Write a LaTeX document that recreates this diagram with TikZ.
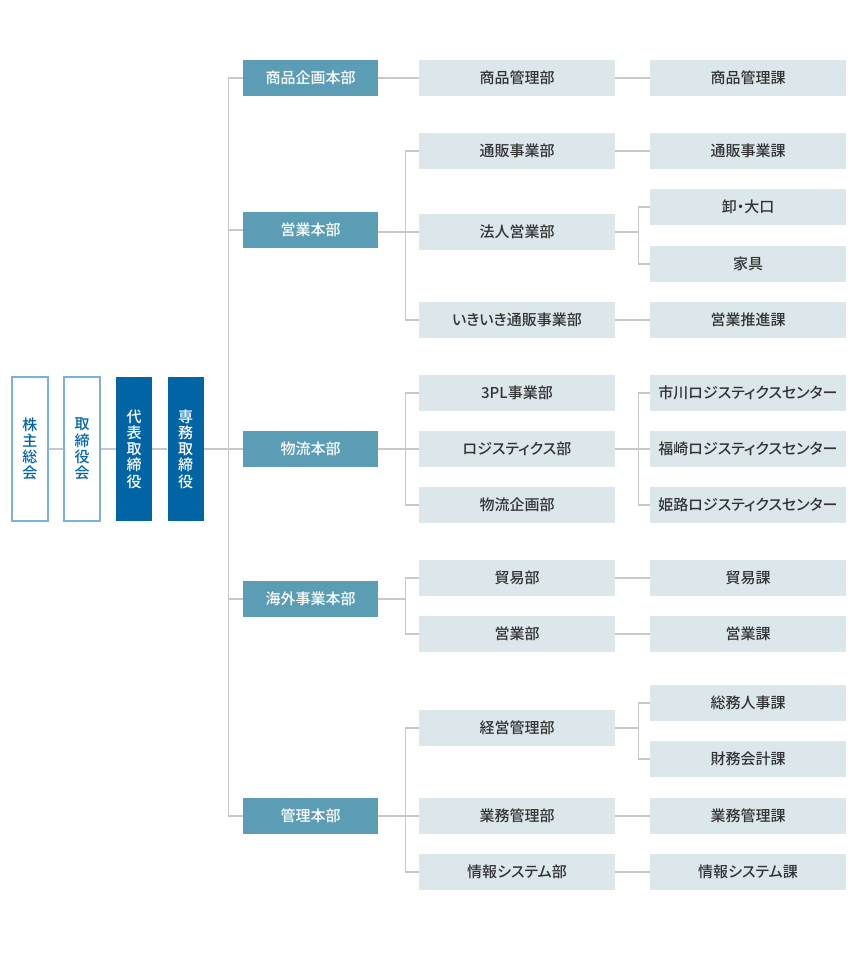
\documentclass[tikz,border=0pt]{standalone}
\usepackage{fontspec}
\setmainfont{Noto Sans CJK JP}[UprightFont=* Medium, RawFeature=+palt]
\definecolor{teal1}{HTML}{5A9DB5}
\definecolor{dblue}{HTML}{0064A5}
\definecolor{lblue}{HTML}{7DB2D8}
\definecolor{pale}{HTML}{DCE7EB}
\definecolor{lgray}{HTML}{C8C8C8}
\definecolor{txt}{HTML}{333333}
\tikzset{
  base/.style={inner sep=0pt, anchor=center, font=\fontsize{15}{17}\selectfont},
  hq/.style={base, fill=teal1, text=white, minimum width=135pt, minimum height=36pt},
  dept/.style={base, fill=pale, text=txt, minimum width=196pt, minimum height=36pt},
  top/.style={base, minimum width=36pt, minimum height=144pt, align=center, font=\fontsize{15}{16.2}\selectfont},
  topo/.style={top, draw=lblue, line width=1.3pt, fill=white, text=dblue},
  topf/.style={top, fill=dblue, text=white},
  conn/.style={draw=lgray, line width=1.2pt}
}
\begin{document}
\begin{tikzpicture}[x=1pt,y=-1pt]
\useasboundingbox[fill=white] (0,0) rectangle (860,970);
% top management
\node[topo] (kabu) at (30,449) {株\\主\\総\\会};
\node[topo] (tori) at (82,449) {取\\締\\役\\会};
\node[topf] (daihyo) at (134,449) {代\\表\\取\\締\\役};
\node[topf] (senmu) at (185.5,449) {専\\務\\取\\締\\役};
% headquarters
\node[hq] (shohin) at (310.5,78) {商品企画本部};
\node[hq] (eigyo) at (310.5,230) {営業本部};
\node[hq] (butsu) at (310.5,449) {物流本部};
\node[hq] (kaigai) at (310.5,599) {海外事業本部};
\node[hq] (kanri) at (310.5,816) {管理本部};
% departments
\node[dept] (shkanri) at (517,78) {商品管理部};
\node[dept] (tsuhan) at (517,151) {通販事業部};
\node[dept] (hojin) at (517,232) {法人営業部};
\node[dept] (ikiiki) at (517,320) {いきいき通販事業部};
\node[dept] (tpl) at (517,393) {3PL事業部};
\node[dept] (logi) at (517,449) {ロジスティクス部};
\node[dept] (bkikaku) at (517,505) {物流企画部};
\node[dept] (boeki) at (517,578) {貿易部};
\node[dept] (eigyobu) at (517,634) {営業部};
\node[dept] (keiei) at (517,728) {経営管理部};
\node[dept] (gyomu) at (517,816) {業務管理部};
\node[dept] (joho) at (517,872) {情報システム部};
% sections
\node[dept] (shkanrika) at (748,78) {商品管理課};
\node[dept] (tsuhanka) at (748,151) {通販事業課};
\node[dept] (oroshi) at (748,207) {卸・大口};
\node[dept] (kagu) at (748,264) {家具};
\node[dept] (suishin) at (748,320) {営業推進課};
\node[dept] (ichikawa) at (748,393) {市川ロジスティクスセンター};
\node[dept] (fukusaki) at (748,449) {福崎ロジスティクスセンター};
\node[dept] (himeji) at (748,505) {姫路ロジスティクスセンター};
\node[dept] (boekika) at (748,578) {貿易課};
\node[dept] (eigyoka) at (748,634) {営業課};
\node[dept] (somu) at (748,703) {総務人事課};
\node[dept] (zaimu) at (748,759) {財務会計課};
\node[dept] (gyomuka) at (748,816) {業務管理課};
\node[dept] (johoka) at (748,872) {情報システム課};
% connectors: top management
\draw[conn] (kabu.east) -- (tori.west);
\draw[conn] (tori.east) -- (daihyo.west);
\draw[conn] (daihyo.east) -- (senmu.west);
\draw[conn] (senmu.east) -- (butsu.west);
% trunk
\draw[conn] (shohin.west) -- ++(-14,0) |- (kanri.west);
\draw[conn] (eigyo.west) -- ++(-14,0);
\draw[conn] (kaigai.west) -- ++(-14,0);
% hq -> departments
\draw[conn] (shohin.east) -- (shkanri.west);
\draw[conn] (eigyo.east |- hojin.west) -- (hojin.west);
\draw[conn] (tsuhan.west) -- ++(-13,0) |- (ikiiki.west);
\draw[conn] (butsu.east) -- (logi.west);
\draw[conn] (tpl.west) -- ++(-13,0) |- (bkikaku.west);
\draw[conn] (kaigai.east) -- ++(28,0);
\draw[conn] (boeki.west) -- ++(-13,0) |- (eigyobu.west);
\draw[conn] (kanri.east) -- (gyomu.west);
\draw[conn] (keiei.west) -- ++(-13,0) |- (joho.west);
% departments -> sections
\draw[conn] (shkanri.east) -- (shkanrika.west);
\draw[conn] (tsuhan.east) -- (tsuhanka.west);
\draw[conn] (hojin.east) -- ++(24,0);
\draw[conn] (oroshi.west) -- ++(-11,0) |- (kagu.west);
\draw[conn] (ikiiki.east) -- (suishin.west);
\draw[conn] (logi.east) -- (fukusaki.west);
\draw[conn] (ichikawa.west) -- ++(-11,0) |- (himeji.west);
\draw[conn] (boeki.east) -- (boekika.west);
\draw[conn] (eigyobu.east) -- (eigyoka.west);
\draw[conn] (keiei.east) -- ++(24,0);
\draw[conn] (somu.west) -- ++(-11,0) |- (zaimu.west);
\draw[conn] (gyomu.east) -- (gyomuka.west);
\draw[conn] (joho.east) -- (johoka.west);
\end{tikzpicture}
\end{document}
